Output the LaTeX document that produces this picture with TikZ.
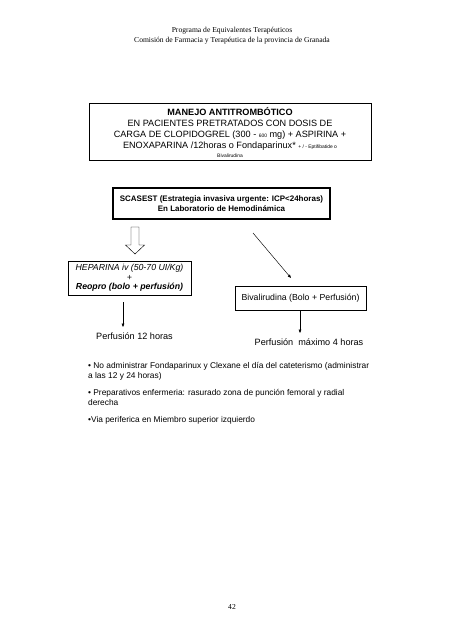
\documentclass[tikz,border=0pt]{standalone}
\usepackage{fontspec}
\setmainfont{Liberation Serif}
\newfontfamily\arial{Liberation Sans}
\usetikzlibrary{arrows.meta}
\newcommand{\smalltxt}[1]{{\fontsize{6.5}{7}\selectfont #1}}
\begin{document}
\begin{tikzpicture}[x=1.315pt,y=-1.315pt,
  box/.style={draw, line width=0.8pt, inner sep=0pt, align=center},
  txt/.style={inner sep=0pt, align=center},
  arr/.style={-{Triangle[length=4.5pt,width=3.5pt]}, line width=0.6pt},
  hollow/.style={draw, line width=0.6pt, fill=white},
  bul/.style={anchor=north west, align=left, inner sep=0pt, font=\arial\fontsize{11}{13.5}\selectfont}]
\useasboundingbox (0,0) rectangle (453,640);
% header
\node[font=\fontsize{10}{13}\selectfont, align=center] (hdr) at (232,36)
  {Programa de Equivalentes Terapéuticos\\Comisión de Farmacia y Terapéutica de la provincia de Granada};
% box 1
\node[box, minimum width=370.8pt, minimum height=74.9pt] (b1) at (230,132) {};
\node[txt, font=\arial\fontsize{12}{14.8}\selectfont] (b1text) at (230,132.5)
  {\textbf{MANEJO ANTITROMBÓTICO}\\
   EN PACIENTES PRETRATADOS CON DOSIS DE\\
   CARGA DE CLOPIDOGREL (300 - \smalltxt{600} mg) + ASPIRINA +\\
   ENOXAPARINA /12horas o Fondaparinux* \smalltxt{+ / - Eptifibatide o}\\[-3pt]
   \smalltxt{Bivalirudina}};
% box 2
\node[box, line width=2pt, minimum width=285.4pt, minimum height=40.8pt,
  font=\arial\bfseries\fontsize{10.5}{12.5}\selectfont] (b2) at (221.5,203.5)
  {SCASEST (Estrategia invasiva urgente: ICP<24horas)\\En Laboratorio de Hemodinámica};
% hollow arrow (from b2 down to hep)
\draw[hollow] (131,227) -- (139,227) -- (139,245) -- (144.5,245) -- (135,254)
  -- (125.5,245) -- (131,245) -- cycle;
% heparina box
\node[box, minimum width=161.7pt, minimum height=44.7pt,
  font=\arial\itshape\fontsize{11.5}{12.5}\selectfont] (hep) at (129.5,278)
  {HEPARINA iv (50-70 UI/Kg)\\+\\\textbf{Reopro (bolo + perfusión)}};
% bivalirudina box
\node[box, minimum width=172.2pt, minimum height=31.5pt,
  font=\arial\fontsize{11.5}{12}\selectfont] (biv) at (300.5,298)
  {Bivalirudina (Bolo + Perfusión)};
% diagonal arrow
\coordinate (d1) at (253,233);
\coordinate (d2) at (291,278);
\draw[arr] (d1) -- (d2);
% left arrow
\coordinate (l1) at (123,302);
\coordinate (l2) at (123,327);
\draw[arr] (l1) -- (l2);
\node[font=\arial\fontsize{12}{14}\selectfont] (p12) at (134.5,336) {Perfusión 12 horas};
% right arrow
\coordinate (r1) at (300,311);
\coordinate (r2) at (300,333);
\draw[arr] (r1) -- (r2);
\node[font=\arial\fontsize{12}{14}\selectfont] (p4) at (309,342) {Perfusión\ \ máximo 4 horas};
% bullets
\node[bul] (bu1) at (88,362)
  {• No administrar Fondaparinux y Clexane el día del cateterismo (administrar\\a las 12 y 24 horas)};
\node[bul] (bu2) at (88,389)
  {• Preparativos enfermeria: rasurado zona de punción femoral y radial\\derecha};
\node[bul] (bu3) at (88,416)
  {•Via periferica en Miembro superior izquierdo};
% page number
\node[font=\fontsize{10}{12}\selectfont] (pg) at (232,607) {42};
\end{tikzpicture}
\end{document}
